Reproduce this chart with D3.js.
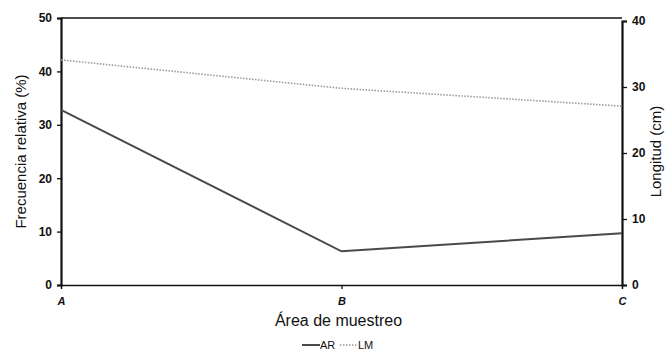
<!DOCTYPE html>
<html>
<head>
<meta charset="utf-8">
<script src="https://cdn.jsdelivr.net/npm/d3@7"></script>
<style>
  body { margin: 0; background: #fff; }
  text { font-family: "Liberation Sans", Arial, sans-serif; fill: #111; }
</style>
</head>
<body>
<div id="chart"></div>
<script>
// data
var areas = ["A", "B", "C"];
var arValues = [32.8, 6.3, 9.7];      // Frecuencia relativa (%)  - left axis
var lmValues = [34.1, 29.8, 27.1];    // Longitud (cm)            - right axis
var leftTicks = [0, 10, 20, 30, 40, 50];
var rightTicks = [0, 10, 20, 30, 40];

var width = 672, height = 357;
var svg = d3.select("#chart").append("svg")
    .attr("width", width)
    .attr("height", height);

var x0 = 61, x1 = 622, yTop = 18, yBot = 285;

var x = d3.scalePoint().domain(areas).range([x0, x1]);
var yL = d3.scaleLinear().domain([0, 50]).range([yBot, yTop]);
var yR = d3.scaleLinear().domain([0, 40]).range([yBot, yTop + 3]);

// frame lines top / bottom
svg.append("line")
    .attr("x1", x0).attr("x2", x1).attr("y1", yTop).attr("y2", yTop)
    .style("stroke", "#111").style("stroke-width", 1.3);

// left axis
var gl = svg.append("g").attr("transform", "translate(" + x0 + ",0)")
    .call(d3.axisLeft(yL).tickValues(leftTicks).tickSize(4).tickPadding(5));
// right axis
var gr = svg.append("g").attr("transform", "translate(" + x1 + ",0)")
    .call(d3.axisRight(yR).tickValues(rightTicks).tickSize(5).tickPadding(5));
// bottom axis
var gb = svg.append("g").attr("transform", "translate(0," + yBot + ")")
    .call(d3.axisBottom(x).tickSize(4).tickPadding(8));

[gl, gr, gb].forEach(function (g) {
    g.select(".domain").style("stroke", "#111").style("stroke-width", 2.2);
    g.selectAll(".tick line").style("stroke", "#111").style("stroke-width", 1.3);
    g.selectAll("text")
        .style("font-family", "'Liberation Sans', Arial, sans-serif")
        .style("font-size", "12px")
        .style("font-weight", "bold")
        .style("fill", "#111");
});
gb.select(".domain").style("stroke-width", 1.5);
gb.selectAll("text").style("font-style", "italic").style("font-size", "11px");
gb.selectAll(".tick").filter(function (d) { return d === "A" || d === "C"; })
    .select("line").remove();

// series lines
var lineAR = d3.line()
    .x(function (d, i) { return x(areas[i]); })
    .y(function (d) { return yL(d); });
var lineLM = d3.line()
    .x(function (d, i) { return x(areas[i]); })
    .y(function (d) { return yR(d); });

svg.append("path").datum(lmValues)
    .attr("d", lineLM)
    .style("fill", "none")
    .style("stroke", "#9a9a9a")
    .style("stroke-width", 1.6)
    .style("stroke-dasharray", "1.5,1.5");

svg.append("path").datum(arValues)
    .attr("d", lineAR)
    .style("fill", "none")
    .style("stroke", "#4a4a4a")
    .style("stroke-width", 2);

// axis titles
svg.append("text")
    .attr("transform", "translate(21," + ((yTop + yBot) / 2) + ") rotate(-90)")
    .attr("text-anchor", "middle")
    .attr("dy", "0.35em")
    .style("font-size", "15px")
    .text("Frecuencia relativa (%)");

svg.append("text")
    .attr("transform", "translate(656," + ((yTop + yBot) / 2) + ") rotate(-90)")
    .attr("text-anchor", "middle")
    .attr("dy", "0.35em")
    .style("font-size", "15px")
    .text("Longitud (cm)");

svg.append("text")
    .attr("x", (x0 + x1) / 2 - 3)
    .attr("y", 326)
    .attr("text-anchor", "middle")
    .style("font-size", "16px")
    .text("Área de muestreo");

// legend
var leg = svg.append("g").attr("transform", "translate(302,345)");
leg.append("line").attr("x1", 0).attr("x2", 18).attr("y1", 0).attr("y2", 0)
    .style("stroke", "#4a4a4a").style("stroke-width", 2);
leg.append("text").attr("x", 18).attr("y", 4).style("font-size", "11px").text("AR");
leg.append("line").attr("x1", 38).attr("x2", 56).attr("y1", 0).attr("y2", 0)
    .style("stroke", "#9a9a9a").style("stroke-width", 1.4)
    .style("stroke-dasharray", "1.5,1.5");
leg.append("text").attr("x", 56).attr("y", 4).style("font-size", "11px").text("LM");
</script>
</body>
</html>
